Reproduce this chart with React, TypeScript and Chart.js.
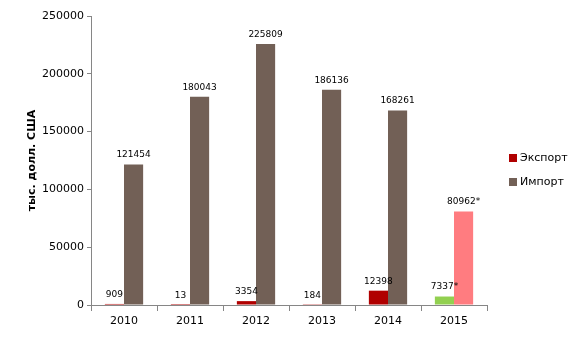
import React, { useEffect, useRef } from "react";
import { Chart, registerables } from "chart.js";

Chart.register(...registerables);

const years = ["2010", "2011", "2012", "2013", "2014", "2015"];
const exportValues = [909, 13, 3354, 184, 12398, 7337];
const importValues = [121454, 180043, 225809, 186136, 168261, 80962];
const preliminary = [false, false, false, false, false, true];
const yTicks = [0, 50000, 100000, 150000, 200000, 250000];
const seriesNames = ["Экспорт", "Импорт"];
const yTitle = "тыс. долл. США";

const EXPORT_COLOR = "#B00000";
const IMPORT_COLOR = "#726056";
const EXPORT_PRELIM = "#92D050";
const IMPORT_PRELIM = "#FF7C80";
const AXIS = "#868686";
const FONT = "'DejaVu Sans', Verdana, sans-serif";

export default function App() {
  const ref = useRef<HTMLCanvasElement | null>(null);
  useEffect(() => {
    document.body.style.margin = "0";
    const canvas = ref.current!;
    const labelsPlugin = {
      id: "labelsPlugin",
      afterDatasetsDraw(chart: any) {
        const ctx = chart.ctx;
        ctx.save();
        ctx.font = `9px ${FONT}`;
        ctx.fillStyle = "#000";
        ctx.textAlign = "center";
        ctx.textBaseline = "bottom";
        chart.data.datasets.forEach((ds: any, di: number) => {
          const meta = chart.getDatasetMeta(di);
          meta.data.forEach((el: any, i: number) => {
            const txt = String(ds.data[i]) + (preliminary[i] ? "*" : "");
            ctx.fillText(txt, el.x, el.y - 5);
          });
        });
        ctx.restore();
      },
      afterDraw(chart: any) {
        const ctx = chart.ctx;
        ctx.save();
        const area = chart.chartArea;
        ctx.font = `bold 11px ${FONT}`;
        ctx.fillStyle = "#000";
        ctx.textAlign = "center";
        ctx.textBaseline = "middle";
        ctx.translate(32, (area.top + area.bottom) / 2);
        ctx.rotate(-Math.PI / 2);
        ctx.fillText(yTitle, 0, 0);
        ctx.restore();
        ctx.save();
        ctx.font = `11px ${FONT}`;
        ctx.textBaseline = "middle";
        ctx.textAlign = "left";
        const colors = [EXPORT_COLOR, IMPORT_COLOR];
        seriesNames.forEach((name, i) => {
          const cy = 158 + i * 24;
          ctx.fillStyle = colors[i];
          ctx.fillRect(509, cy - 4, 8, 8);
          ctx.fillStyle = "#000";
          ctx.fillText(name, 520, cy);
        });
        ctx.restore();
      },
    };
    const chart = new Chart(canvas, {
      type: "bar",
      data: {
        labels: years,
        datasets: [
          {
            label: seriesNames[0],
            data: exportValues,
            backgroundColor: preliminary.map((p) => (p ? EXPORT_PRELIM : EXPORT_COLOR)),
            barPercentage: 1,
            categoryPercentage: 0.58,
          },
          {
            label: seriesNames[1],
            data: importValues,
            backgroundColor: preliminary.map((p) => (p ? IMPORT_PRELIM : IMPORT_COLOR)),
            barPercentage: 1,
            categoryPercentage: 0.58,
          },
        ],
      },
      options: {
        responsive: false,
        animation: false,
        layout: { padding: { top: 16, right: 93, left: 0, bottom: 0 } },
        plugins: { legend: { display: false }, tooltip: { enabled: false } },
        scales: {
          x: {
            afterFit: (s: any) => {
              s.height = 35;
            },
            grid: {
              drawOnChartArea: false,
              drawTicks: true,
              tickLength: 6,
              color: AXIS,
              offset: true,
            },
            border: { display: true, color: AXIS },
            ticks: { color: "#000", font: { family: FONT, size: 11 }, padding: 4 },
          },
          y: {
            min: 0,
            max: 250000,
            afterFit: (s: any) => {
              s.width = 91;
            },
            afterBuildTicks: (s: any) => {
              s.ticks = yTicks.map((v) => ({ value: v }));
            },
            grid: {
              drawOnChartArea: false,
              drawTicks: true,
              tickLength: 4,
              color: AXIS,
            },
            border: { display: true, color: AXIS },
            ticks: {
              color: "#000",
              font: { family: FONT, size: 11 },
              padding: 3,
              callback: (v: any) => String(v),
            },
          },
        },
      },
      plugins: [labelsPlugin],
    });
    return () => chart.destroy();
  }, []);
  return <canvas ref={ref} width={580} height={340} style={{ display: "block" }} />;
}
